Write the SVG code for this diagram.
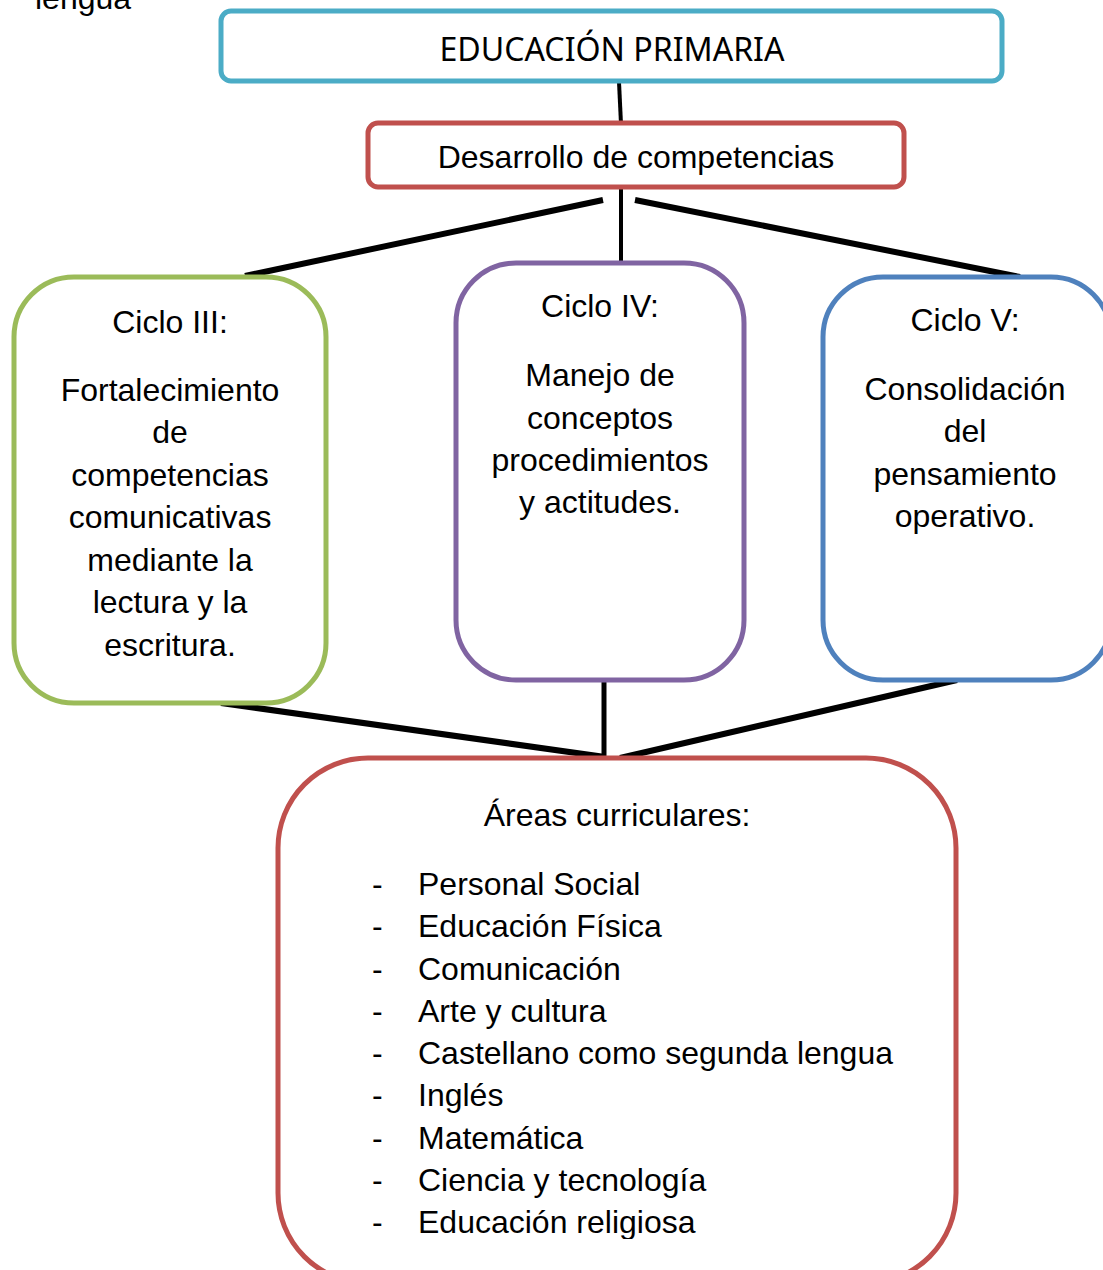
<svg xmlns="http://www.w3.org/2000/svg" width="1103" height="1270" viewBox="0 0 1103 1270">
<style>
.box{fill:#fff;stroke-width:5}
.t{font-family:"Liberation Sans",Arial,sans-serif;font-size:32px;fill:#000}
.c{text-anchor:middle}
.ln{stroke:#000;stroke-linecap:butt;fill:none}
</style>
<defs>
<clipPath id="clipB"><rect x="0" y="760" width="1103" height="479"/></clipPath>
</defs>
<rect width="1103" height="1270" fill="#fff"/>
<text class="t" x="35" y="9">lengua</text>
<g id="connectors">
<line class="ln" x1="619" y1="82" x2="621" y2="124" stroke-width="4"/>
<line class="ln" x1="621" y1="188" x2="621" y2="265" stroke-width="4"/>
<line class="ln" x1="603" y1="200" x2="245" y2="276" stroke-width="6"/>
<line class="ln" x1="635" y1="200" x2="1020" y2="277" stroke-width="6"/>
<line class="ln" x1="221" y1="703" x2="605" y2="757" stroke-width="6"/>
<line class="ln" x1="604" y1="680" x2="604" y2="772" stroke-width="5"/>
<line class="ln" x1="957" y1="680" x2="620" y2="758" stroke-width="6"/>
</g>
<g id="educacion">
<rect class="box" x="221" y="11" width="781" height="70" rx="10" stroke="#4BACC6"/>
<text x="612" y="61" text-anchor="middle" font-family="'Noto Sans',sans-serif" font-size="32" textLength="345" lengthAdjust="spacingAndGlyphs">EDUCACIÓN PRIMARIA</text>
</g>
<g id="desarrollo">
<rect class="box" x="368" y="123" width="536" height="64" rx="10" stroke="#C0504D"/>
<text class="t c" x="636" y="168">Desarrollo de competencias</text>
</g>
<g id="ciclo3">
<rect class="box" x="14" y="277" width="312" height="426" rx="60" stroke="#9BBB59"/>
<text class="t c" x="170" y="333">Ciclo III:</text>
<text class="t c" x="170" y="401">Fortalecimiento</text>
<text class="t c" x="170" y="443">de</text>
<text class="t c" x="170" y="486">competencias</text>
<text class="t c" x="170" y="528">comunicativas</text>
<text class="t c" x="170" y="571">mediante la</text>
<text class="t c" x="170" y="613">lectura y la</text>
<text class="t c" x="170" y="656">escritura.</text>
</g>
<g id="ciclo4">
<rect class="box" x="456" y="263" width="288" height="417" rx="60" stroke="#8064A2"/>
<text class="t c" x="600" y="317">Ciclo IV:</text>
<text class="t c" x="600" y="386">Manejo de</text>
<text class="t c" x="600" y="429">conceptos</text>
<text class="t c" x="600" y="471">procedimientos</text>
<text class="t c" x="600" y="513">y actitudes.</text>
</g>
<g id="ciclo5">
<rect class="box" x="823" y="277" width="288" height="403" rx="60" stroke="#4F81BD"/>
<text class="t c" x="965" y="331">Ciclo V:</text>
<text class="t c" x="965" y="400">Consolidación</text>
<text class="t c" x="965" y="442">del</text>
<text class="t c" x="965" y="485">pensamiento</text>
<text class="t c" x="965" y="527">operativo.</text>
</g>
<g id="areas">
<rect class="box" x="278" y="758" width="678" height="525" rx="90" stroke="#C0504D"/>
<g clip-path="url(#clipB)">
<text class="t c" x="617" y="826">Áreas curriculares:</text>
<g class="t">
<text x="372" y="895">-</text><text x="418" y="895">Personal Social</text>
<text x="372" y="937">-</text><text x="418" y="937">Educación Física</text>
<text x="372" y="980">-</text><text x="418" y="980">Comunicación</text>
<text x="372" y="1022">-</text><text x="418" y="1022">Arte y cultura</text>
<text x="372" y="1064">-</text><text x="418" y="1064">Castellano como segunda lengua</text>
<text x="372" y="1106">-</text><text x="418" y="1106">Inglés</text>
<text x="372" y="1149">-</text><text x="418" y="1149">Matemática</text>
<text x="372" y="1191">-</text><text x="418" y="1191">Ciencia y tecnología</text>
<text x="372" y="1233">-</text><text x="418" y="1233">Educación religiosa</text>
</g>
</g>
</g>
</svg>
